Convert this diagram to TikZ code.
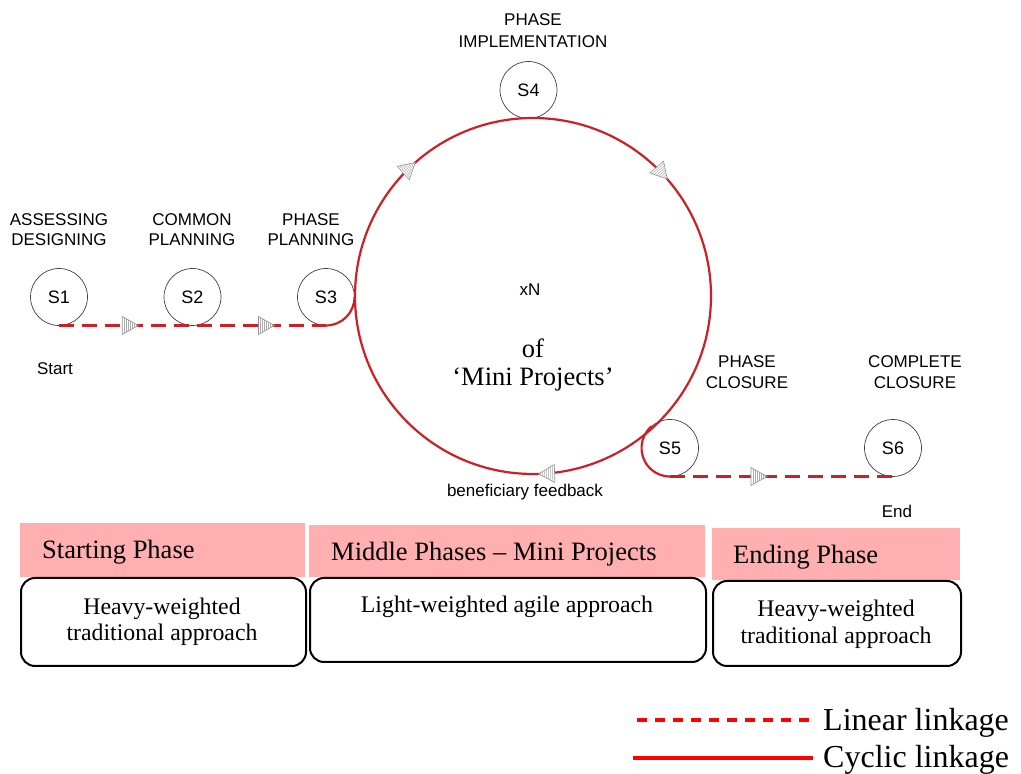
\documentclass[tikz,border=0pt]{standalone}
\usepackage{fontspec}
\setmainfont{Liberation Serif}
\newfontfamily\labfont{Liberation Sans}
\usetikzlibrary{decorations.markings}
\definecolor{linkred}{RGB}{205,32,38}
\definecolor{legred}{RGB}{255,0,0}
\definecolor{hdrpink}{RGB}{255,175,175}

% hatched direction triangle, tip at the origin, pointing along +x
\newcommand\hatchtip{%
  \fill[white] (-16,-9) -- (0,0) -- (-16,9) -- cycle;
  \foreach \xx/\hh in {-14/7.9,-12/6.75,-10/5.6,-8/4.5,-6/3.4,-4/2.25,-2/1.1}
    \draw[solid, gray!65, line width=0.5pt] (\xx,-\hh) -- (\xx,\hh);
  \draw[solid, gray!85, line width=0.6pt, line join=miter]
    (-16,-9) -- (0,0) -- (-16,9) -- cycle;%
}

\begin{document}
\begin{tikzpicture}[x=1pt,y=1pt,
  stage/.style={circle, draw=black!75, line width=0.7pt, minimum size=57pt,
    inner sep=0pt, outer sep=0pt, font=\labfont\fontsize{18}{20}\selectfont},
  caption/.style={anchor=base, inner sep=0pt, font=\labfont\fontsize{17}{20}\selectfont},
  linear/.style={draw=linkred, line width=2.6pt, dash pattern=on 15pt off 8pt},
  cyclic/.style={draw=linkred, line width=2.2pt},
  hdr/.style={fill=hdrpink, anchor=south west, inner sep=0pt},
  hdrtext/.style={anchor=base west, inner sep=0pt, font=\fontsize{26.5}{30}\selectfont},
  bodybox/.style={draw=black, line width=2pt, rounded corners=14pt, anchor=north west,
    inner sep=0pt, fill=white},
  bodytext/.style={anchor=base, inner sep=0pt, font=\fontsize{23.8}{27}\selectfont},
  centertext/.style={anchor=base, inner sep=0pt, font=\fontsize{26.5}{30}\selectfont},
  legtext/.style={anchor=base west, inner sep=0pt, font=\fontsize{32}{36}\selectfont}
]
\useasboundingbox (0,0) rectangle (1021,774);

% stage circles
\node[stage] (s1) at (59,477) {S1};
\node[stage] (s2) at (192.5,477) {S2};
\node[stage] (s3) at (326,477) {S3};
\node[stage] (s4) at (528.5,684) {S4};
\node[stage] (s5) at (670,326) {S5};
\node[stage] (s6) at (893,326) {S6};
\node[circle, minimum size=356pt, inner sep=0pt, outer sep=0pt] (loop) at (533,478) {};

% linear start: S1 -> S3, then into the loop
\draw[linear, postaction={decorate}, decoration={markings,
    mark=at position 0.297 with {\hatchtip},
    mark=at position 0.807 with {\hatchtip}}]
  (s1.south) -- (s3.south);
\draw[cyclic] (s3.south) arc[start angle=270, end angle=360, radius=28.5];

% cyclic loop of mini projects (clockwise)
\draw[cyclic, postaction={decorate}, decoration={markings,
    mark=at position 0.135 with {\hatchtip},
    mark=at position 0.386 with {\hatchtip},
    mark=at position 0.745 with {\hatchtip}}]
  (loop.west) arc[start angle=180, end angle=-180, radius=178];

% exit of the loop: S5 -> S6
\draw[cyclic] (s5.130) arc[start angle=130, end angle=270, radius=28.5];
\draw[linear, postaction={decorate}, decoration={markings,
    mark=at position 0.435 with {\hatchtip}}]
  (s5.south) -- (s6.south);

% stage captions
\node[caption] (c1a) at (59,548) {ASSESSING};
\node[caption] (c1b) at (59,528) {DESIGNING};
\node[caption] (c2a) at (192,548) {COMMON};
\node[caption] (c2b) at (192,528) {PLANNING};
\node[caption] (c3a) at (311,548) {PHASE};
\node[caption] (c3b) at (311,528) {PLANNING};
\node[caption] (c4a) at (533,748) {PHASE};
\node[caption] (c4b) at (533,726) {IMPLEMENTATION};
\node[caption] (c5a) at (747,406) {PHASE};
\node[caption] (c5b) at (747,385) {CLOSURE};
\node[caption] (c6a) at (915,406) {COMPLETE};
\node[caption] (c6b) at (915,385) {CLOSURE};
\node[caption] (start) at (55,399) {Start};
\node[caption] (end) at (897,256) {End};
\node[caption] (fb) at (525,277) {beneficiary feedback};
\node[caption] (xn) at (530,478) {xN};
\node[centertext] (of) at (533,416) {of};
\node[centertext] (mini) at (533,388) {‘Mini Projects’};

% phase headers
\node[hdr, minimum width=285pt, minimum height=54pt] (h1) at (20,197) {};
\node[hdr, minimum width=396pt, minimum height=52pt] (h2) at (309,197) {};
\node[hdr, minimum width=248pt, minimum height=52pt] (h3) at (712,194) {};
\node[hdrtext] (h1t) at (42,215) {Starting Phase};
\node[hdrtext] (h2t) at (331,213) {Middle Phases – Mini Projects};
\node[hdrtext] (h3t) at (733,210) {Ending Phase};

% approach boxes
\node[bodybox, minimum width=285pt, minimum height=88pt] (b1) at (20,197) {};
\node[bodybox, minimum width=396pt, minimum height=84pt] (b2) at (309,197) {};
\node[bodybox, minimum width=248pt, minimum height=85pt] (b3) at (712,194) {};
\node[bodytext] (b1a) at (162,159) {Heavy-weighted};
\node[bodytext] (b1b) at (162,133) {traditional approach};
\node[bodytext] (b2a) at (507,161) {Light-weighted agile approach};
\node[bodytext] (b3a) at (836,157) {Heavy-weighted};
\node[bodytext] (b3b) at (836,130) {traditional approach};

% legend
\coordinate (ldA) at (637,54);
\coordinate (ldB) at (813,54);
\coordinate (lcA) at (633,16);
\coordinate (lcB) at (813,16);
\draw[draw=legred, line width=3.5pt, dash pattern=on 10pt off 8pt] (ldA) -- (ldB);
\draw[draw=legred, line width=4pt] (lcA) -- (lcB);
\node[legtext] (linlab) at (823,43) {Linear linkage};
\node[legtext] (cyclab) at (823,6) {Cyclic linkage};
\end{tikzpicture}
\end{document}
